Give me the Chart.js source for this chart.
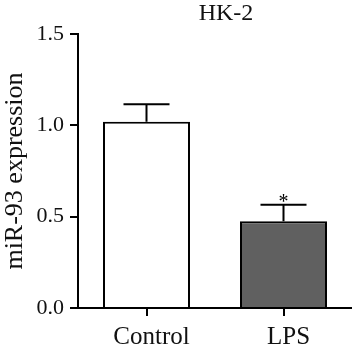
<!DOCTYPE html>
<html>
<head>
<meta charset="utf-8">
<script src="https://cdn.jsdelivr.net/npm/chart.js@4"></script>
<style>
  html, body { margin: 0; padding: 0; background: #fff; }
  #wrap { width: 352px; height: 353px; }
</style>
</head>
<body>
<div id="wrap"><canvas id="barChart"></canvas></div>
<script>
// data
const groups = ['Control', 'LPS'];
const means = [1.02, 0.475];
const errors = [0.095, 0.09];
const marks = ['', '*'];
const yTicks = [0, 0.5, 1.0, 1.5];

const serif = '"Liberation Serif", "DejaVu Serif", serif';

// error bars, asterisk and title
const extras = {
    id: 'extras',
    afterDatasetsDraw(chart) {
        const ctx = chart.ctx;
        const y = chart.scales.y;
        const meta = chart.getDatasetMeta(0);
        ctx.save();
        ctx.strokeStyle = '#000';
        ctx.lineWidth = 2;
        meta.data.forEach((bar, i) => {
            const top = y.getPixelForValue(means[i] + errors[i]);
            const base = y.getPixelForValue(means[i]);
            ctx.beginPath();
            ctx.moveTo(bar.x, base);
            ctx.lineTo(bar.x, top);
            ctx.moveTo(bar.x - 23, top);
            ctx.lineTo(bar.x + 23, top);
            ctx.stroke();
            if (marks[i]) {
                ctx.fillStyle = '#000';
                ctx.font = '20px ' + serif;
                ctx.textAlign = 'center';
                ctx.textBaseline = 'bottom';
                ctx.fillText(marks[i], bar.x, top + 8);
            }
        });
        ctx.fillStyle = '#111';
        ctx.font = '24px ' + serif;
        ctx.textAlign = 'center';
        ctx.textBaseline = 'middle';
        ctx.fillText('HK-2', 226, 14);
        ctx.restore();
    }
};

new Chart(document.getElementById('barChart').getContext('2d'), {
    type: 'bar',
    data: {
        labels: groups,
        datasets: [{
            data: means,
            backgroundColor: ['#ffffff', '#606060'],
            borderColor: '#000',
            borderWidth: 2,
            borderSkipped: 'bottom',
            categoryPercentage: 1,
            barPercentage: 0.635
        }]
    },
    options: {
        responsive: true,
        maintainAspectRatio: false,
        animation: false,
        layout: { padding: { top: 34, right: 0, left: 0, bottom: 0 } },
        plugins: {
            legend: { display: false },
            tooltip: { enabled: false }
        },
        scales: {
            x: {
                grid: {
                    offset: false,
                    drawOnChartArea: false,
                    color: '#000',
                    lineWidth: 2,
                    tickLength: 8
                },
                border: { color: '#000', width: 2 },
                ticks: {
                    color: '#111',
                    font: { family: serif, size: 25 },
                    padding: 6,
                    labelOffset: 5
                },
                afterFit(scale) { scale.height = 45; }
            },
            y: {
                min: 0,
                max: 1.5,
                afterBuildTicks(scale) {
                    scale.ticks = yTicks.map(v => ({ value: v }));
                },
                grid: {
                    drawOnChartArea: false,
                    color: '#000',
                    lineWidth: 2,
                    tickLength: 8
                },
                border: { color: '#000', width: 2 },
                ticks: {
                    color: '#111',
                    font: { family: serif, size: 22 },
                    padding: 6,
                    callback: v => v.toFixed(1)
                },
                title: {
                    display: true,
                    text: 'miR-93 expression',
                    color: '#111',
                    font: { family: serif, size: 26 },
                    padding: { top: 0, bottom: 0 }
                },
                afterFit(scale) { scale.width = 78; }
            }
        }
    },
    plugins: [extras]
});
</script>
</body>
</html>
